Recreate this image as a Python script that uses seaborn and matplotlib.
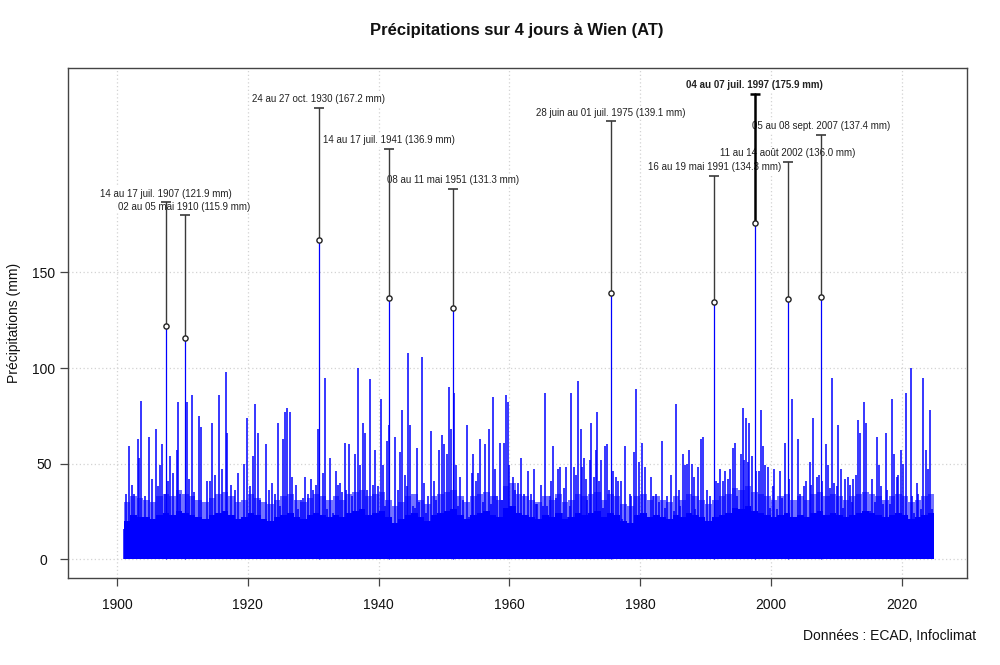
import numpy as np
import matplotlib
matplotlib.use("Agg")
import matplotlib.pyplot as plt
import seaborn as sns

# Data (4-day rainfall totals, mm)
years = np.arange(1901, 2025)
# level below which the yearly band is solid blue
base_mm = [20, 23, 22, 22, 21, 23, 24, 23, 25, 24,
           23, 22, 21, 23, 24, 25, 23, 21, 22, 24,
           23, 21, 20, 22, 23, 24, 22, 21, 23, 24,
           23, 22, 23, 22, 24, 25, 26, 23, 24, 25,
           22, 19, 21, 23, 24, 22, 20, 23, 24, 25,
           26, 23, 21, 23, 24, 25, 23, 22, 27, 28,
           24, 23, 22, 21, 23, 22, 24, 21, 22, 24,
           23, 24, 25, 22, 24, 23, 20, 19, 23, 24,
           22, 23, 22, 21, 23, 22, 24, 23, 22, 20,
           22, 23, 24, 27, 26, 28, 25, 24, 23, 22,
           23, 24, 22, 23, 22, 24, 25, 23, 24, 23,
           22, 23, 24, 25, 24, 23, 22, 23, 24, 23,
           21, 22, 23, 24]
# typical top of the dense lines in each year
dense_top_mm = [30, 33, 32, 31, 30, 33, 34, 33, 36, 34,
                33, 31, 30, 32, 34, 35, 33, 30, 31, 34,
                32, 30, 29, 31, 33, 34, 31, 30, 32, 34,
                33, 31, 33, 31, 34, 35, 36, 33, 34, 35,
                31, 28, 30, 33, 34, 31, 29, 33, 34, 35,
                36, 33, 30, 33, 34, 35, 33, 31, 38, 40,
                34, 33, 31, 30, 33, 31, 34, 30, 31, 34,
                33, 34, 35, 31, 34, 33, 29, 28, 33, 34,
                31, 33, 31, 30, 33, 31, 34, 33, 31, 29,
                31, 33, 34, 37, 36, 38, 35, 34, 33, 31,
                33, 34, 31, 33, 31, 34, 35, 33, 34, 33,
                31, 33, 34, 35, 34, 33, 31, 33, 34, 33,
                30, 31, 33, 34]

spike_dates = [
    1901.14, 1901.34, 1901.85, 1902.26, 1902.67, 1903.18, 1903.43, 1903.69, 1904.30, 1904.96,
    1905.32, 1905.98, 1906.23, 1906.59, 1906.90, 1907.36, 1907.87, 1908.12, 1908.63, 1909.19,
    1909.40, 1909.65, 1910.77, 1911.08, 1911.43, 1911.84, 1912.55, 1912.81, 1913.73, 1914.24,
    1914.59, 1915.00, 1915.61, 1916.02, 1916.63, 1916.84, 1917.40, 1918.06, 1918.57, 1919.44,
    1919.84, 1920.35, 1920.86, 1921.12, 1921.52, 1921.83, 1922.24, 1922.75, 1923.26, 1923.72,
    1924.12, 1924.58, 1924.89, 1925.40, 1925.65, 1926.01, 1926.52, 1926.82, 1927.33, 1927.69,
    1928.10, 1928.46, 1928.81, 1929.22, 1929.63, 1929.98, 1930.39, 1930.75, 1931.46, 1931.77,
    1932.13, 1932.53, 1933.04, 1933.45, 1933.81, 1934.16, 1934.47, 1934.83, 1935.08, 1935.49,
    1935.95, 1936.46, 1936.87, 1937.22, 1937.63, 1937.89, 1938.24, 1938.75, 1939.11, 1939.52,
    1939.92, 1940.43, 1940.69, 1941.00, 1941.30, 1941.61, 1942.47, 1942.94, 1943.30, 1943.55,
    1944.06, 1944.37, 1944.57, 1944.88, 1945.34, 1945.59, 1945.90, 1946.25, 1946.61, 1946.92,
    1947.27, 1947.53, 1948.04, 1948.44, 1948.80, 1949.31, 1949.72, 1950.08, 1950.43, 1950.84,
    1951.09, 1951.60, 1951.86, 1952.11, 1952.52, 1952.98, 1953.54, 1953.90, 1954.25, 1954.51,
    1954.92, 1955.27, 1955.58, 1955.94, 1956.29, 1956.85, 1957.21, 1957.57, 1957.82, 1958.13,
    1958.54, 1958.84, 1959.25, 1959.50, 1959.76, 1960.01, 1960.52, 1960.88, 1961.29, 1961.80,
    1962.31, 1962.82, 1963.33, 1963.73, 1964.04, 1964.29, 1964.80, 1965.16, 1965.47, 1965.82,
    1966.18, 1966.44, 1966.69, 1967.10, 1967.51, 1967.71, 1968.12, 1968.37, 1968.63, 1968.98,
    1969.24, 1969.49, 1969.90, 1970.16, 1970.51, 1970.92, 1971.18, 1971.43, 1971.69, 1971.94,
    1972.30, 1972.55, 1972.96, 1973.21, 1973.47, 1973.72, 1973.98, 1974.39, 1974.64, 1974.90,
    1975.25, 1975.86, 1976.27, 1976.63, 1977.04, 1977.29, 1977.65, 1978.06, 1978.41, 1978.67,
    1979.08, 1979.43, 1979.84, 1980.25, 1980.71, 1981.11, 1981.62, 1981.98, 1982.39, 1982.90,
    1983.41, 1983.81, 1984.17, 1984.68, 1985.14, 1985.55, 1985.90, 1986.16, 1986.52, 1986.82,
    1987.18, 1987.43, 1987.69, 1987.94, 1988.20, 1988.45, 1988.81, 1989.32, 1989.57, 1990.24,
    1990.64, 1991.00, 1991.66, 1991.92, 1992.28, 1992.68, 1993.04, 1993.40, 1993.70, 1994.16,
    1994.47, 1994.82, 1995.08, 1995.44, 1995.69, 1995.95, 1996.20, 1996.45, 1996.71, 1997.12,
    1997.73, 1998.14, 1998.49, 1998.80, 1999.16, 1999.56, 1999.92, 2000.28, 2000.53, 2000.94,
    2001.35, 2001.70, 2002.21, 2002.72, 2003.23, 2003.64, 2004.15, 2004.51, 2005.02, 2005.37,
    2005.93, 2006.15, 2006.45, 2007.12, 2007.37, 2007.88, 2008.39, 2008.70, 2009.05, 2009.31,
    2009.72, 2010.07, 2010.33, 2010.73, 2011.09, 2011.35, 2011.75, 2012.11, 2012.37, 2012.62,
    2013.03, 2013.39, 2013.64, 2014.30, 2014.56, 2014.91, 2015.22, 2015.53, 2015.93, 2016.29,
    2016.60, 2016.85, 2017.21, 2017.56, 2017.82, 2018.23, 2018.48, 2018.89, 2019.25, 2019.50,
    2019.86, 2020.27, 2020.62, 2021.39, 2021.64, 2021.95, 2022.30, 2022.56, 2022.97, 2023.32,
    2023.68, 2023.99, 2024.35, 2024.60]
spike_mm = [
    16, 34, 59, 39, 34, 63, 53, 83, 33, 64,
    42, 68, 38, 49, 60, 34, 41, 54, 45, 57,
    82, 34, 82, 42, 86, 35, 75, 69, 41, 41,
    71, 44, 86, 47, 98, 66, 39, 36, 45, 50,
    74, 38, 54, 81, 66, 31, 21, 60, 36, 40,
    34, 71, 28, 63, 77, 79, 77, 43, 39, 26,
    31, 32, 43, 34, 42, 36, 39, 68, 45, 95,
    26, 53, 24, 46, 39, 40, 35, 61, 36, 60,
    33, 55, 100, 49, 71, 66, 36, 94, 39, 57,
    38, 84, 49, 28, 62, 70, 64, 36, 56, 78,
    44, 38, 108, 70, 28, 27, 58, 30, 106, 40,
    24, 33, 67, 41, 31, 57, 65, 60, 55, 90,
    68, 87, 49, 28, 43, 31, 70, 22, 45, 55,
    41, 45, 63, 30, 60, 68, 29, 85, 47, 33,
    61, 31, 61, 86, 82, 49, 43, 36, 40, 53,
    34, 46, 34, 47, 29, 29, 39, 28, 87, 28,
    33, 41, 59, 32, 47, 48, 24, 37, 48, 22,
    28, 87, 48, 44, 93, 68, 48, 53, 42, 31,
    52, 71, 43, 57, 77, 41, 52, 27, 59, 60,
    36, 46, 43, 41, 41, 21, 59, 17, 34, 33,
    56, 89, 51, 61, 48, 14, 43, 33, 34, 30,
    62, 27, 33, 44, 25, 81, 36, 28, 55, 49,
    50, 57, 22, 50, 43, 26, 48, 63, 64, 36,
    33, 20, 41, 40, 47, 41, 46, 42, 47, 58,
    61, 33, 24, 55, 79, 52, 74, 51, 71, 54,
    46, 46, 78, 59, 49, 48, 27, 38, 47, 26,
    46, 32, 61, 42, 84, 21, 63, 34, 38, 41,
    51, 39, 74, 43, 44, 41, 60, 49, 37, 95,
    40, 38, 70, 47, 27, 42, 43, 39, 30, 42,
    44, 73, 66, 82, 71, 21, 25, 42, 30, 64,
    49, 38, 29, 66, 36, 29, 84, 55, 43, 44,
    57, 50, 87, 100, 33, 24, 40, 34, 26, 95,
    57, 47, 78, 26]

# Annotated events
event_dates = [1907.535, 1910.336, 1930.815, 1941.535, 1951.352,
               1975.490, 1991.374, 1997.507, 2002.610, 2007.680]
event_mm = [121.9, 115.9, 167.2, 136.9, 131.3, 139.1, 134.3, 175.9, 136.0, 137.4]
event_labels = ["14 au 17 juil. 1907 (121.9 mm)", "02 au 05 mai 1910 (115.9 mm)",
                "24 au 27 oct. 1930 (167.2 mm)", "14 au 17 juil. 1941 (136.9 mm)",
                "08 au 11 mai 1951 (131.3 mm)", "28 juin au 01 juil. 1975 (139.1 mm)",
                "16 au 19 mai 1991 (134.3 mm)", "04 au 07 juil. 1997 (175.9 mm)",
                "11 au 14 août 2002 (136.0 mm)", "05 au 08 sept. 2007 (137.4 mm)"]
label_mm = [186.9, 179.9, 236.1, 214.8, 193.9, 229.1, 200.7, 243.5, 207.9, 222.1]

sns.set_style("white")
plt.rcParams["font.family"] = ["Liberation Sans", "DejaVu Sans"]

fig = plt.figure(figsize=(10, 6.65), dpi=100)
ax = fig.add_axes([0.068, 0.1308, 0.899, 0.7669])

# dense part of the series: thick hatch of lines, then solid core
x_edges = np.append(years, 2024.9)
ax.fill_between(x_edges, np.append(dense_top_mm, dense_top_mm[-1]), step="post",
                color="blue", alpha=0.55, lw=0, zorder=2)
ax.fill_between(x_edges, np.append(base_mm, base_mm[-1]), step="post",
                color="blue", lw=0, zorder=2)

# individual spikes
ax.vlines(spike_dates, 0, spike_mm, color="blue", lw=1.1, zorder=2)
ax.vlines(event_dates, 0, event_mm, color="blue", lw=0.9, zorder=2)

# annotations
top = int(np.argmax(event_mm))
for i in range(len(event_dates)):
    bold = i == top
    col = "black" if bold else "#3a3a3a"
    z = 7 if bold else 5
    ax.plot([event_dates[i], event_dates[i]], [event_mm[i], label_mm[i]],
            color=col, lw=1.8 if bold else 1.0, zorder=z)
    ax.plot(event_dates[i], label_mm[i], marker="_", ms=7, mew=1.8 if bold else 1.2,
            color=col, zorder=z)
    ax.annotate(event_labels[i], (event_dates[i], label_mm[i]),
                xytext=(0, 2.5), textcoords="offset points",
                ha="center", va="bottom", fontsize=7.0,
                fontweight="bold" if bold else "normal", color="#222222",
                bbox=dict(boxstyle="square,pad=0.15", fc="white", ec="none"),
                zorder=4)
sns.scatterplot(x=event_dates, y=event_mm, ax=ax, marker="o", s=14,
                facecolor="white", edgecolor="#222222", linewidth=1.0, zorder=8)

ax.set_xlim(1892.5, 2030)
ax.set_ylim(-9.9, 257)
ax.set_xticks([1900, 1920, 1940, 1960, 1980, 2000, 2020])
ax.set_yticks([0, 50, 100, 150])
ax.grid(True, color="#d3d3d3", ls=(0, (1, 2)), lw=0.9)
ax.set_axisbelow(True)
for s in ax.spines.values():
    s.set_visible(True)
    s.set_color("#444444")
    s.set_linewidth(1.0)
ax.tick_params(axis="both", direction="out", length=5.5, width=0.9, color="#444444",
               labelsize=10, labelcolor="#111111", left=True, bottom=True)
ax.tick_params(axis="x", pad=9)
ax.tick_params(axis="y", pad=12)
for lab in ax.get_yticklabels():
    lab.set_horizontalalignment("center")

ax.set_ylabel("Précipitations (mm)", fontsize=10, color="#111111", labelpad=8)
fig.suptitle("Précipitations sur 4 jours à Wien (AT)", x=0.517, y=0.965,
             fontsize=12, fontweight="bold", color="#111111")
fig.text(0.976, 0.033, "Données : ECAD, Infoclimat", ha="right", va="bottom",
         fontsize=10, color="#111111")

fig.savefig("out.png", dpi=100)
